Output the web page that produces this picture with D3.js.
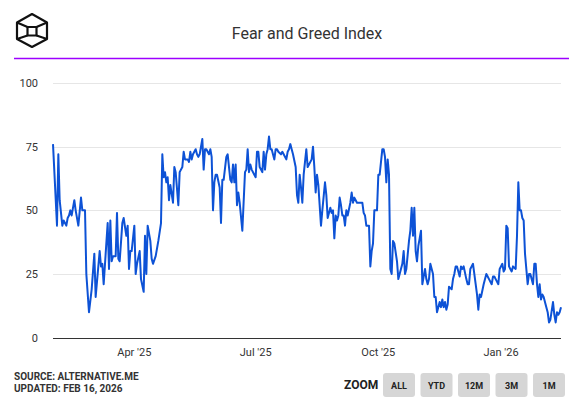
<!DOCTYPE html>
<html>
<head>
<meta charset="UTF-8" />
<title>Fear and Greed Index</title>
<script src="https://d3js.org/d3.v7.min.js"></script>
<style>
  body { margin: 0; background: #fff; font-family: Roboto, "Open Sans", sans-serif; }
  svg text { font-family: Roboto, sans-serif; }
</style>
</head>
<body>
<svg id="chart" width="579" height="398"></svg>
<script>
// daily readings picked off the chart (turning points)
const dates = [
  "2025-01-30","2025-02-02","2025-02-03","2025-02-04","2025-02-06","2025-02-07","2025-02-09","2025-02-10","2025-02-11","2025-02-12",
  "2025-02-13","2025-02-15","2025-02-16","2025-02-18","2025-02-20","2025-02-21","2025-02-23","2025-02-24","2025-02-26","2025-02-28",
  "2025-03-02","2025-03-03","2025-03-06","2025-03-07","2025-03-08","2025-03-09","2025-03-12","2025-03-13","2025-03-14","2025-03-15",
  "2025-03-16","2025-03-18","2025-03-19","2025-03-20","2025-03-21","2025-03-23","2025-03-24","2025-03-26","2025-03-27","2025-03-28",
  "2025-03-29","2025-03-30","2025-04-01","2025-04-02","2025-04-03","2025-04-05","2025-04-06","2025-04-08","2025-04-09","2025-04-10",
  "2025-04-11","2025-04-13","2025-04-14","2025-04-15","2025-04-17","2025-04-19","2025-04-21","2025-04-22","2025-04-23","2025-04-24",
  "2025-04-25","2025-04-26","2025-04-27","2025-04-28","2025-04-30","2025-05-01","2025-05-02","2025-05-04","2025-05-05","2025-05-07",
  "2025-05-08","2025-05-09","2025-05-11","2025-05-12","2025-05-13","2025-05-14","2025-05-15","2025-05-17","2025-05-18","2025-05-19",
  "2025-05-20","2025-05-22","2025-05-23","2025-05-24","2025-05-25","2025-05-27","2025-05-28","2025-05-29","2025-05-30","2025-05-31",
  "2025-06-01","2025-06-02","2025-06-04","2025-06-05","2025-06-06","2025-06-07","2025-06-09","2025-06-10","2025-06-12","2025-06-13",
  "2025-06-14","2025-06-15","2025-06-16","2025-06-17","2025-06-18","2025-06-19","2025-06-21","2025-06-23","2025-06-24","2025-06-25",
  "2025-06-26","2025-06-27","2025-06-28","2025-06-30","2025-07-01","2025-07-02","2025-07-03","2025-07-04","2025-07-06","2025-07-07",
  "2025-07-08","2025-07-09","2025-07-10","2025-07-11","2025-07-12","2025-07-13","2025-07-15","2025-07-16","2025-07-17","2025-07-18",
  "2025-07-20","2025-07-21","2025-07-22","2025-07-24","2025-07-25","2025-07-26","2025-07-27","2025-07-28","2025-07-29","2025-07-31",
  "2025-08-01","2025-08-02","2025-08-03","2025-08-04","2025-08-05","2025-08-06","2025-08-08","2025-08-09","2025-08-10","2025-08-12",
  "2025-08-13","2025-08-14","2025-08-15","2025-08-16","2025-08-17","2025-08-19","2025-08-20","2025-08-22","2025-08-23","2025-08-24",
  "2025-08-26","2025-08-27","2025-08-28","2025-08-29","2025-08-30","2025-08-31","2025-09-01","2025-09-02","2025-09-03","2025-09-04",
  "2025-09-05","2025-09-06","2025-09-07","2025-09-08","2025-09-10","2025-09-11","2025-09-12","2025-09-13","2025-09-15","2025-09-16",
  "2025-09-17","2025-09-19","2025-09-20","2025-09-21","2025-09-22","2025-09-23","2025-09-24","2025-09-25","2025-09-26","2025-09-27",
  "2025-09-28","2025-09-29","2025-09-30","2025-10-01","2025-10-02","2025-10-04","2025-10-05","2025-10-06","2025-10-07","2025-10-08",
  "2025-10-09","2025-10-10","2025-10-11","2025-10-12","2025-10-13","2025-10-15","2025-10-16","2025-10-17","2025-10-19","2025-10-20",
  "2025-10-21","2025-10-22","2025-10-24","2025-10-25","2025-10-26","2025-10-27","2025-10-28","2025-10-29","2025-10-30","2025-10-31",
  "2025-11-01","2025-11-02","2025-11-03","2025-11-05","2025-11-06","2025-11-07","2025-11-08","2025-11-09","2025-11-11","2025-11-12",
  "2025-11-13","2025-11-14","2025-11-16","2025-11-17","2025-11-18","2025-11-19","2025-11-20","2025-11-21","2025-11-22","2025-11-23",
  "2025-11-25","2025-11-26","2025-11-27","2025-11-28","2025-11-29","2025-12-01","2025-12-02","2025-12-03","2025-12-04","2025-12-06",
  "2025-12-07","2025-12-08","2025-12-09","2025-12-11","2025-12-13","2025-12-14","2025-12-15","2025-12-16","2025-12-17","2025-12-19",
  "2025-12-21","2025-12-22","2025-12-23","2025-12-25","2025-12-26","2025-12-27","2025-12-28","2025-12-30","2025-12-31","2026-01-02",
  "2026-01-03","2026-01-04","2026-01-05","2026-01-06","2026-01-07","2026-01-08","2026-01-09","2026-01-10","2026-01-12","2026-01-13",
  "2026-01-14","2026-01-15","2026-01-16","2026-01-17","2026-01-18","2026-01-19","2026-01-21","2026-01-22","2026-01-23","2026-01-25",
  "2026-01-26","2026-01-27","2026-01-28","2026-01-29","2026-01-30","2026-01-31","2026-02-01","2026-02-02","2026-02-04","2026-02-05",
  "2026-02-06","2026-02-07","2026-02-09","2026-02-10","2026-02-11","2026-02-12","2026-02-13","2026-02-14","2026-02-15"
];
const values = [
  76,44,72,54,44,46,44,47,48,50,
  48,54,50,44,55,50,50,25,10,19,
  33,16,34,28,29,21,45,27,46,30,
  32,32,49,31,30,45,47,40,44,27,
  34,34,44,25,29,34,23,18,40,25,
  44,38,31,29,32,38,45,72,63,65,
  61,63,54,60,53,67,65,52,65,67,
  73,70,70,69,73,70,72,74,72,71,
  72,78,66,74,74,72,74,71,50,61,
  64,64,59,45,62,62,71,72,62,61,
  68,61,68,52,57,53,42,65,66,74,
  65,68,66,64,63,73,73,67,65,73,
  66,72,74,79,74,74,70,74,74,73,
  72,73,72,70,73,74,76,74,72,67,
  56,53,64,59,53,64,74,67,68,70,
  75,67,57,64,60,44,50,61,56,47,
  51,49,50,39,48,46,48,55,52,48,
  48,44,50,48,53,57,53,55,53,53,
  53,53,49,48,44,44,44,28,34,37,
  50,50,50,64,64,74,74,71,61,70,
  64,27,25,38,37,30,23,25,29,34,
  25,27,38,42,51,40,51,34,30,36,
  39,42,21,27,23,21,23,29,25,16,
  16,10,14,12,15,12,14,11,13,20,
  19,23,25,28,28,24,28,27,28,23,
  21,21,27,29,21,17,11,17,16,21,
  25,24,23,21,24,24,23,21,27,29,
  26,27,44,43,28,27,26,28,27,40,
  61,50,50,47,46,33,21,25,25,21,
  29,29,21,16,21,15,17,16,12,10,
  6,7,14,9,6,10,9,10,12
];
const yTicks = [0, 25, 50, 75, 100];
const xTickDates = ["2025-04-01", "2025-07-01", "2025-10-01", "2026-01-01"];
const xTickLabels = ["Apr '25", "Jul '25", "Oct '25", "Jan '26"];
const zoomButtons = ["ALL", "YTD", "12M", "3M", "1M"];

const parse = d3.utcParse("%Y-%m-%d");
const data = dates.map((d, i) => ({ date: parse(d), value: values[i] }));

const svg = d3.select("#chart");
const plotLeft = 53, plotRight = 561, plotTop = 83, plotBottom = 337.7;

const x = d3.scaleUtc()
  .domain(d3.extent(data, d => d.date))
  .range([plotLeft, plotRight]);
const y = d3.scaleLinear().domain([0, 100]).range([plotBottom, plotTop]);

// logo
const logo = svg.append("g").attr("fill", "none").attr("stroke", "#111").attr("stroke-width", 2.2)
  .attr("stroke-linejoin", "round");
logo.append("path").attr("d", "M32,14 L47,22.5 L47,39 L32,47 L17,39 L17,22.5 Z");
logo.append("path").attr("d", "M27.5,27 L36.5,27 L36.5,35.5 L27.5,35.5 Z");
logo.append("path").attr("d", "M17,22.5 L27.5,27 M47,22.5 L36.5,27 M27.5,35.5 L17,39 M36.5,35.5 L47,39");

// title
svg.append("text")
  .attr("x", 307).attr("y", 39)
  .attr("text-anchor", "middle")
  .attr("font-size", 16).attr("fill", "#333")
  .text("Fear and Greed Index");

svg.append("line")
  .attr("x1", 14).attr("x2", 569).attr("y1", 58.5).attr("y2", 58.5)
  .attr("stroke", "#9d00ff").attr("stroke-width", 1.6);

// grid + y labels
svg.append("g").selectAll("line")
  .data(yTicks.filter(t => t > 0))
  .join("line")
  .attr("x1", plotLeft).attr("x2", plotRight)
  .attr("y1", d => Math.round(y(d)) + 0.5).attr("y2", d => Math.round(y(d)) + 0.5)
  .attr("stroke", "#e6e6e6");

svg.append("line")
  .attr("x1", plotLeft).attr("x2", plotRight)
  .attr("y1", Math.round(y(0)) + 0.5).attr("y2", Math.round(y(0)) + 0.5)
  .attr("stroke", "#333");

svg.append("g").selectAll("text")
  .data(yTicks)
  .join("text")
  .attr("x", 38).attr("y", d => y(d) + 4)
  .attr("text-anchor", "end")
  .attr("font-size", 11).attr("fill", "#333")
  .text(d => d);

// x labels
svg.append("g").selectAll("text")
  .data(xTickDates)
  .join("text")
  .attr("x", d => x(parse(d)))
  .attr("y", 356)
  .attr("text-anchor", "middle")
  .attr("font-size", 11).attr("fill", "#333")
  .text((d, i) => xTickLabels[i]);

// the line
const line = d3.line()
  .x(d => x(d.date))
  .y(d => y(d.value));

svg.append("path")
  .datum(data)
  .attr("d", line)
  .attr("fill", "none")
  .attr("stroke", "#0d52d6")
  .attr("stroke-width", 2)
  .attr("stroke-linejoin", "round");

// footer
svg.append("text").attr("x", 14).attr("y", 380)
  .attr("font-size", 10).attr("font-weight", "bold").attr("fill", "#333")
  .text("SOURCE: ALTERNATIVE.ME");
svg.append("text").attr("x", 14).attr("y", 392)
  .attr("font-size", 10).attr("font-weight", "bold").attr("fill", "#333")
  .text("UPDATED: FEB 16, 2026");

svg.append("text").attr("x", 344).attr("y", 389)
  .attr("font-size", 12).attr("font-weight", "bold").attr("fill", "#222")
  .text("ZOOM");

const btn = svg.append("g").selectAll("g")
  .data(zoomButtons)
  .join("g")
  .attr("transform", (d, i) => `translate(${383 + i * 37.5},373)`);
btn.append("rect")
  .attr("width", 32).attr("height", 24).attr("rx", 3)
  .attr("fill", "#d6d6d6");
btn.append("text")
  .attr("x", 16).attr("y", 16)
  .attr("text-anchor", "middle")
  .attr("font-size", 9).attr("font-weight", "bold").attr("fill", "#222")
  .text(d => d);
</script>
</body>
</html>
